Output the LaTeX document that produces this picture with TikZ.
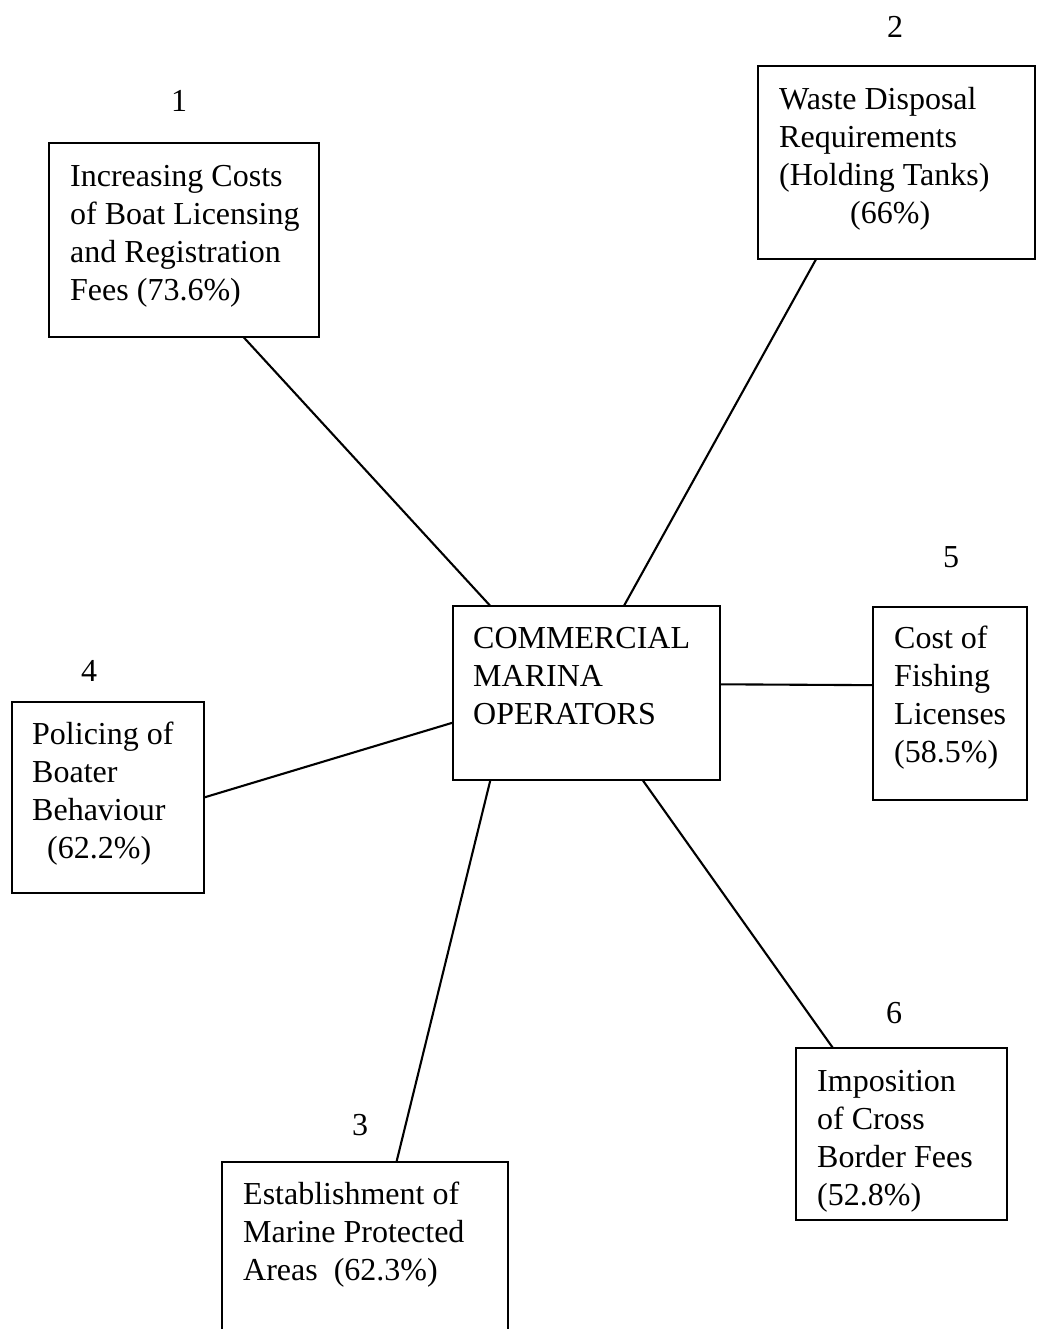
\documentclass[tikz,border=0pt]{standalone}
\usepackage{fontspec}
\setmainfont{Liberation Serif}
\usetikzlibrary{calc}

\tikzset{
  box/.style={draw, rectangle, line width=2.1pt, inner sep=0pt, outer sep=0pt, anchor=north west},
  boxtext/.style={anchor=north west, inner sep=0pt, align=left, font=\fontsize{32}{38}\selectfont},
  num/.style={inner sep=0pt, font=\fontsize{32}{38}\selectfont},
  link/.style={line width=2.1pt}
}

\begin{document}
\begin{tikzpicture}[x=1pt, y=-1pt]
  \clip (0,0) rectangle (1037,1329);
  \fill[white] (0,0) rectangle (1037,1329);

  % boxes
  \node[box, minimum width=270pt, minimum height=194pt] (b1) at (49,143) {};
  \node[box, minimum width=277pt, minimum height=193pt] (b2) at (758,66) {};
  \node[box, minimum width=267pt, minimum height=174pt] (c)  at (453,606) {};
  \node[box, minimum width=154pt, minimum height=193pt] (b5) at (873,607) {};
  \node[box, minimum width=192pt, minimum height=191pt] (b4) at (12,702) {};
  \node[box, minimum width=211pt, minimum height=172pt] (b6) at (796,1048) {};
  \node[box, minimum width=286pt, minimum height=190pt] (b3) at (222,1162) {};

  % box texts
  \node[boxtext] (t1) at (70,160) {\strut Increasing Costs\\ of Boat Licensing\\ and Registration\\ Fees (73.6\%)};
  \node[boxtext] (t2) at (779,83) {\strut Waste Disposal\\ Requirements\\ (Holding Tanks)\\ \hspace*{71pt}(66\%)};
  \node[boxtext] (tc) at (473,622) {\strut COMMERCIAL\\ MARINA\\ OPERATORS};
  \node[boxtext] (t5) at (894,622) {\strut Cost of\\ Fishing\\ Licenses\\ (58.5\%)};
  \node[boxtext] (t4) at (32,718) {\strut Policing of\\ Boater\\ Behaviour\\ \hspace*{15pt}(62.2\%)};
  \node[boxtext] (t6) at (817,1065) {\strut Imposition\\ of Cross\\ Border Fees\\ (52.8\%)};
  \node[boxtext] (t3) at (243,1178) {\strut Establishment of\\ Marine Protected\\ Areas\ \ (62.3\%)};

  % numbers
  \node[num] (n1) at (179,101) {1};
  \node[num] (n2) at (895,27) {2};
  \node[num] (n5) at (951,557) {5};
  \node[num] (n4) at (89,671) {4};
  \node[num] (n6) at (894,1013) {6};
  \node[num] (n3) at (360,1125) {3};

  % connectors
  \draw[link] ($(b1.south west)!0.72!(b1.south east)$) -- ($(c.north west)!0.14!(c.north east)$);
  \draw[link] ($(b2.south west)!0.21!(b2.south east)$) -- ($(c.north west)!0.64!(c.north east)$);
  \draw[link] ($(c.north east)!0.45!(c.south east)$) -- ($(b5.north west)!0.405!(b5.south west)$);
  \draw[link] (b4.east) -- ($(c.north west)!0.67!(c.south west)$);
  \draw[link] ($(c.south west)!0.14!(c.south east)$) -- ($(b3.north west)!0.61!(b3.north east)$);
  \draw[link] ($(c.south west)!0.71!(c.south east)$) -- ($(b6.north west)!0.175!(b6.north east)$);
\end{tikzpicture}
\end{document}
